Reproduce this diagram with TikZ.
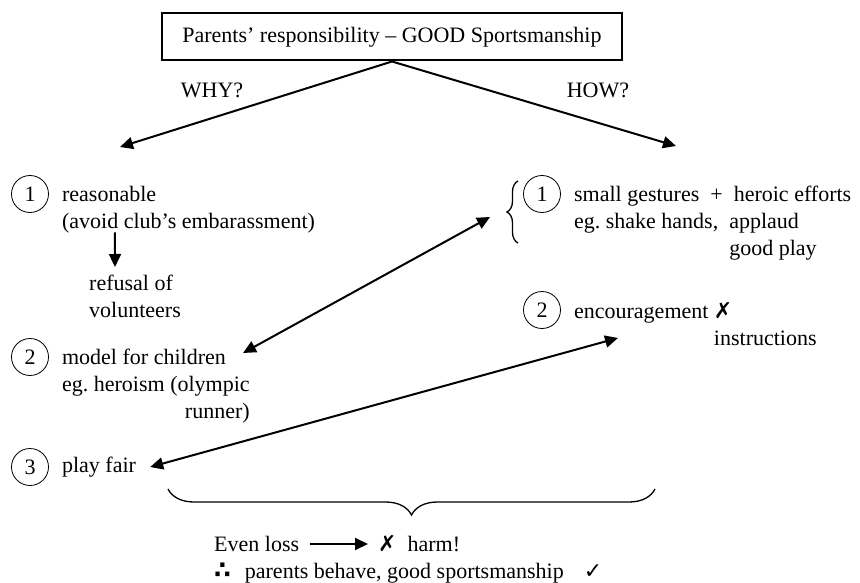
\documentclass[tikz,border=0pt]{standalone}
\usepackage{fontspec}
\usepackage{tikz}
\usetikzlibrary{positioning, arrows.meta, decorations.pathreplacing}
\setmainfont{Liberation Serif}
\newfontfamily\dejavu{DejaVu Sans}
\newcommand{\nope}{{\dejavu\char"2717}}
\newcommand{\yes}{{\dejavu\char"2713}}
\newcommand{\hence}{{\dejavu\bfseries\fontsize{24}{25}\selectfont\char"2234}}
\tikzset{
    >={Triangle[length=13pt, width=12pt]},                   % Filled arrow heads
    every node/.style={font=\fontsize{22}{27}\selectfont},   % Same text size everywhere
    txt/.style={inner sep=0pt, align=left},                  % Plain text blocks
    numcirc/.style={circle, draw, line width=0.8pt, minimum size=37pt, inner sep=0pt}, % Numbered points
    titlebox/.style={draw, line width=2pt, minimum width=460pt, minimum height=47pt}, % Heading
    arr/.style={->, line width=2pt},                         % One-way arrows
    dbl/.style={<->, line width=2pt},                        % Links between columns
    bracket/.style={decorate, line width=1.3pt}              % Curly braces
}

\begin{document}
\begin{tikzpicture}[x=1pt, y=-1pt]
    \useasboundingbox (0,0) rectangle (860,583);

    % Heading and the two branches
    \node [titlebox] (title) at (392,37) {Parents’ responsibility -- GOOD Sportsmanship};
    \node (why) at (212,90) {WHY?};
    \node (how) at (598,90) {HOW?};
    \coordinate (whyEnd) at (120,147);
    \coordinate (howEnd) at (676,146);
    \draw [arr] (title.south) -- (whyEnd);
    \draw [arr] (title.south) -- (howEnd);

    % WHY? column
    \node [numcirc] (w1) at (30,194) {1};
    \node [txt, anchor=north west] (w1txt) at ([xshift=13pt, yshift=8pt] w1.east) {reasonable\\(avoid club’s embarassment)};
    \node [txt, anchor=north west] (refusal) at (89,275) {refusal of\\volunteers};
    \draw [arr] ([xshift=53pt, yshift=1pt] w1txt.south west) -- ([xshift=26pt, yshift=8pt] refusal.north west);

    \node [numcirc] (w2) at (30,357) {2};
    \node [txt, anchor=north west] (w2txt) at ([xshift=13pt, yshift=8pt] w2.east) {model for children\\eg.\ heroism (olympic\\\hfill runner)};

    \node [numcirc] (w3) at (30,467) {3};
    \node [txt, right=13pt of w3] (w3txt) {play fair};

    % HOW? column
    \node [numcirc] (h1) at (542,194) {1};
    \node [txt, anchor=north west] (h1txt) at ([xshift=13pt, yshift=8pt] h1.east) {small gestures\enspace+\enspace heroic efforts\\eg.\ shake hands,\enspace applaud\\\phantom{eg.\ shake hands,\enspace }good play};
    \coordinate (h1brB) at (518,243);
    \coordinate (h1brT) at (518,181);
    \draw [bracket, decoration={brace, amplitude=11pt}] (h1brB) -- (h1brT);

    \node [numcirc] (h2) at (542,310) {2};
    \node [txt, anchor=north west] (h2txt) at ([xshift=13pt, yshift=8pt] h2.east) {encouragement \nope\\\phantom{encouragement }instructions};

    % Links across
    \coordinate (w2tip) at (243,353);
    \coordinate (h1tip) at (490,217);
    \coordinate (h2tip) at (618,338);
    \draw [dbl] (w2tip) -- (h1tip);
    \draw [dbl] ([xshift=14pt] w3txt.east) -- (h2tip);

    % Conclusion
    \coordinate (braceR) at (655,489);
    \coordinate (braceL) at (168,489);
    \draw [bracket, decoration={brace, amplitude=26pt}] (braceR) -- (braceL);
    \node [txt, anchor=west] (loss) at (214,544) {Even loss};
    \node [txt, anchor=west] (harm) at (378,544) {\nope\enspace harm!};
    \draw [arr] ([xshift=11pt] loss.east) -- ([xshift=-10pt] harm.west);
    \node [txt, anchor=west] (hence) at (214,573) {\hence\hspace{14pt}parents behave, good sportsmanship\hspace{20pt}\yes};
\end{tikzpicture}
\end{document}
